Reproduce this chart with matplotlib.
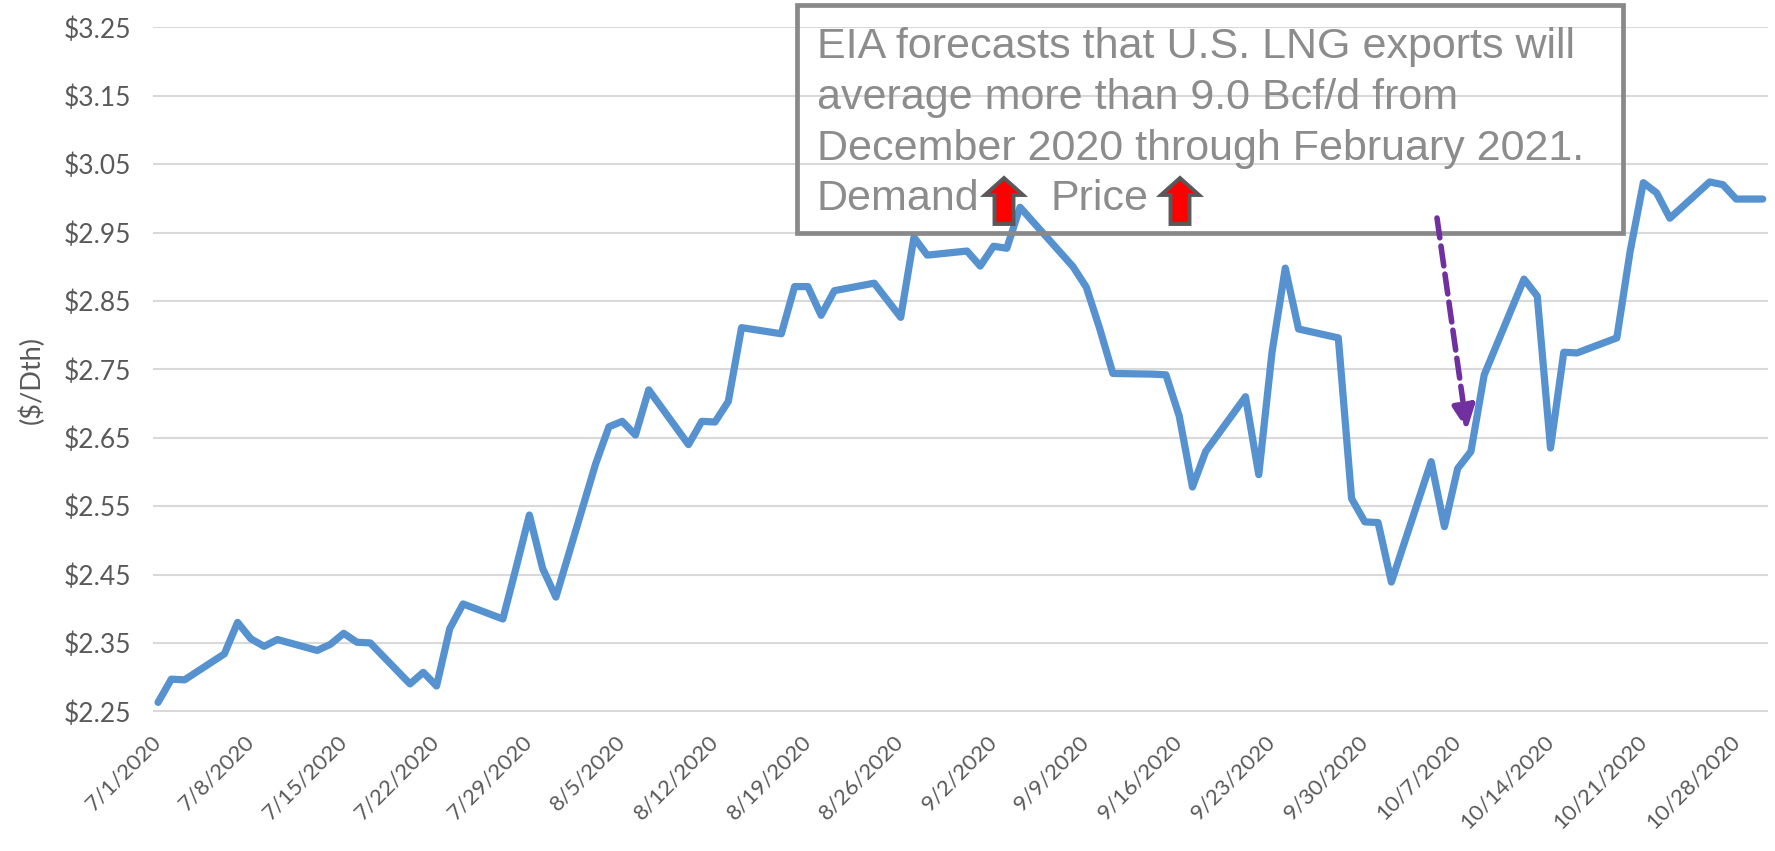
import datetime as dt
import numpy as np
import matplotlib.pyplot as plt
import matplotlib.dates as mdates
import matplotlib.transforms as mtransforms
from matplotlib.patches import Rectangle, Polygon, FancyArrowPatch

# daily gas price, trading days Jul-Oct 2020
trade_days = [
    "7/1", "7/2", "7/3", "7/6", "7/7", "7/8", "7/9", "7/10", "7/13", "7/14",
    "7/15", "7/16", "7/17", "7/20", "7/21", "7/22", "7/23", "7/24", "7/27", "7/28",
    "7/29", "7/30", "7/31", "8/3", "8/4", "8/5", "8/6", "8/7", "8/10", "8/11",
    "8/12", "8/13", "8/14", "8/17", "8/18", "8/19", "8/20", "8/21", "8/24", "8/25",
    "8/26", "8/27", "8/28", "8/31", "9/1", "9/2", "9/3", "9/4", "9/8", "9/9",
    "9/10", "9/11", "9/14", "9/15", "9/16", "9/17", "9/18", "9/21", "9/22", "9/23",
    "9/24", "9/25", "9/28", "9/29", "9/30", "10/1", "10/2", "10/5", "10/6", "10/7",
    "10/8", "10/9", "10/12", "10/13", "10/14", "10/15", "10/16", "10/19", "10/20", "10/21",
    "10/22", "10/23", "10/26", "10/27", "10/28", "10/29", "10/30",
]
prices = [
    2.263, 2.297, 2.296, 2.334, 2.380, 2.356, 2.345, 2.355, 2.339, 2.348,
    2.364, 2.351, 2.350, 2.290, 2.307, 2.287, 2.371, 2.407, 2.385, 2.460,
    2.537, 2.459, 2.417, 2.612, 2.666, 2.674, 2.654, 2.720, 2.640, 2.674,
    2.673, 2.703, 2.811, 2.802, 2.871, 2.871, 2.829, 2.865, 2.876, 2.851,
    2.826, 2.943, 2.917, 2.923, 2.901, 2.930, 2.927, 2.987, 2.900, 2.870,
    2.810, 2.744, 2.743, 2.742, 2.682, 2.578, 2.630, 2.710, 2.596, 2.775,
    2.898, 2.809, 2.796, 2.561, 2.527, 2.526, 2.439, 2.615, 2.520, 2.605,
    2.630, 2.742, 2.882, 2.857, 2.635, 2.775, 2.774, 2.796, 2.922, 3.023,
    3.008, 2.971, 3.024, 3.020, 2.999, 2.999, 2.999,
]
tick_days = ["7/1", "7/8", "7/15", "7/22", "7/29", "8/5", "8/12", "8/19", "8/26",
             "9/2", "9/9", "9/16", "9/23", "9/30", "10/7", "10/14", "10/21", "10/28"]
y_ticks = [2.25, 2.35, 2.45, 2.55, 2.65, 2.75, 2.85, 2.95, 3.05, 3.15, 3.25]

note_lines = [
    "EIA forecasts that U.S. LNG exports will",
    "average more than 9.0 Bcf/d from",
    "December 2020 through February 2021.",
]


def to_date(s):
    m, d = s.split("/")
    return dt.datetime(2020, int(m), int(d))


dates = [to_date(s) for s in trade_days]
ticks = [to_date(s) for s in tick_days]

plt.rcParams['font.family'] = ['Lato', 'DejaVu Sans']
W, H = 1775, 851
GRAY = '#595959'


def px(x, y):
    return (x / W, 1 - y / H)


fig = plt.figure(figsize=(W / 100, H / 100), dpi=100)
ax = fig.add_axes([153 / W, 1 - 712 / H, (1768 - 153) / W, (712 - 26.7) / H])

ax.plot(dates, prices, color='#5592cf', lw=5.2, solid_joinstyle='round',
        solid_capstyle='round', zorder=3)

ax.set_ylim(2.25 - 0.001, 3.25 + 0.001)
x0 = mdates.date2num(dates[0])
x1 = mdates.date2num(dates[-1])
ax.set_xlim(x0 - 0.38, x1 + 0.4)

ax.set_yticks(y_ticks)
ax.set_yticklabels([f"${v:.2f}" for v in y_ticks])
ax.set_xticks(ticks)
ax.set_xticklabels([f"{d.month}/{d.day}/{d.year}" for d in ticks],
                   rotation=45, ha='right', va='top', rotation_mode='anchor')
ax.tick_params(axis='both', length=0, labelcolor=GRAY)
ax.tick_params(axis='y', pad=16, labelsize=19)
ax.tick_params(axis='x', pad=14, labelsize=16)

# nudge the slanted date labels a little to the left of their ticks
nudge = mtransforms.ScaledTranslation(-7 / 100, 0, fig.dpi_scale_trans)
for lab in ax.get_xticklabels():
    lab.set_transform(lab.get_transform() + nudge)

for sp in ax.spines.values():
    sp.set_visible(False)
ax.yaxis.grid(True, color='#d9d9d9', lw=1.5)
ax.set_axisbelow(True)

fig.text(32 / W, 1 - 380 / H, "($/Dth)", rotation=90, ha='center', va='center',
         fontsize=19.5, color=GRAY)

# note box
bx0, by0 = px(796.5, 233)
bx1, by1 = px(1622.5, 5)
fig.patches.append(Rectangle((bx0, by0), bx1 - bx0, by1 - by0, transform=fig.transFigure,
                             fill=False, edgecolor='#898989', lw=3.4, zorder=2))

box_font = dict(family='Liberation Sans', fontsize=31, color='#8c8c8c', va='baseline', ha='left')
for i, line in enumerate(note_lines):
    fig.text(*px(817, 58 + 51 * i), line, **box_font)
fig.text(*px(817, 210), "Demand", **box_font)
fig.text(*px(1050, 210), "Price", **box_font)


def up_arrow(cx):
    pts = [(cx, 178), (cx + 19, 195), (cx + 9.5, 195), (cx + 9.5, 224),
           (cx - 9.5, 224), (cx - 9.5, 195), (cx - 19, 195)]
    return Polygon([px(*p) for p in pts], closed=True, transform=fig.transFigure,
                   facecolor='#ff0000', edgecolor='#595959', lw=2.8, zorder=4)


fig.patches.append(up_arrow(1004))
fig.patches.append(up_arrow(1180))

# dashed pointer to early October
fig.patches.append(FancyArrowPatch(px(1437, 218), px(1467, 430), transform=fig.transFigure,
                                   arrowstyle='-|>,head_length=0.7,head_width=0.33',
                                   mutation_scale=20, color='#7030a0', lw=4,
                                   linestyle=(0, (3.6, 1.5)), shrinkA=0, shrinkB=0, zorder=5))

fig.savefig("out.png", dpi=100)
